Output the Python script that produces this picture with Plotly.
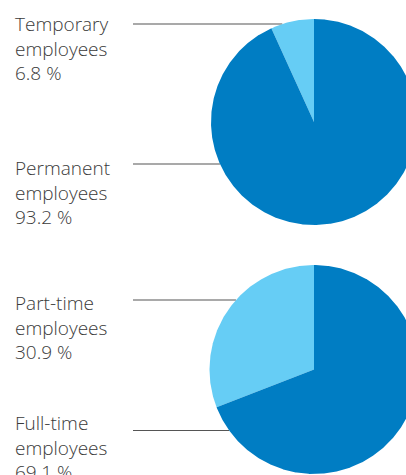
import numpy as np
import plotly.graph_objects as go

# Workforce structure: two breakdowns, shares in percent
contract_labels = ["Temporary<br>employees", "Permanent<br>employees"]
contract_shares = [6.8, 93.2]

hours_labels = ["Part-time<br>employees", "Full-time<br>employees"]
hours_shares = [30.9, 69.1]

slice_colors = ["#66CDF5", "#007DC3"]
W, H = 406, 475
LABEL_FONT = dict(family="Open Sans", size=19, color="#3a3a3a", weight=300)

# Layout of each pie: centre, radius, label block top, leader-line y
pies = [
    dict(labels=contract_labels, shares=contract_shares, cx=314, cy=122, r=103,
         text_y=[9, 153], line_y=[24, 164]),
    dict(labels=hours_labels, shares=hours_shares, cx=314, cy=369.5, r=104.5,
         text_y=[287.5, 407.5], line_y=[300, 430.5]),
]

fig = go.Figure()
shapes, annotations = [], []

for p in pies:
    cx, cy, r = p["cx"], p["cy"], p["r"]
    start = 90.0  # 12 o'clock, slices run counter-clockwise
    for share, color in zip(p["shares"], slice_colors):
        sweep = share / 100.0 * 360.0
        th = np.radians(np.linspace(start, start + sweep, max(int(sweep * 2), 8)))
        xs = np.concatenate([[cx], cx + r * np.cos(th), [cx]])
        ys = np.concatenate([[cy], cy - r * np.sin(th), [cy]])
        fig.add_trace(go.Scatter(x=xs, y=ys, mode="lines", fill="toself",
                                 fillcolor=color, line=dict(width=0, color=color),
                                 hoverinfo="skip", showlegend=False))
        start += sweep
    for lab, share, ty, ly in zip(p["labels"], p["shares"], p["text_y"], p["line_y"]):
        annotations.append(dict(
            x=13, y=ty, xref="x", yref="y", xanchor="left", yanchor="top",
            text=f"{lab}<br>{share:.1f} %", showarrow=False, align="left",
            font=LABEL_FONT))
        x_end = cx - np.sqrt(max(r * r - (ly - cy) ** 2, 0.0))
        shapes.append(dict(type="line", xref="x", yref="y", x0=133, x1=x_end,
                           y0=ly, y1=ly, line=dict(color="#555555", width=1.2),
                           layer="below"))

fig.update_layout(
    width=W, height=H, margin=dict(l=0, r=0, t=0, b=0),
    paper_bgcolor="white", plot_bgcolor="white",
    xaxis=dict(range=[0, W], visible=False, fixedrange=True),
    yaxis=dict(range=[H, 0], visible=False, fixedrange=True),
    shapes=shapes, annotations=annotations,
)

fig.write_html("out.html", config={"displayModeBar": False})
